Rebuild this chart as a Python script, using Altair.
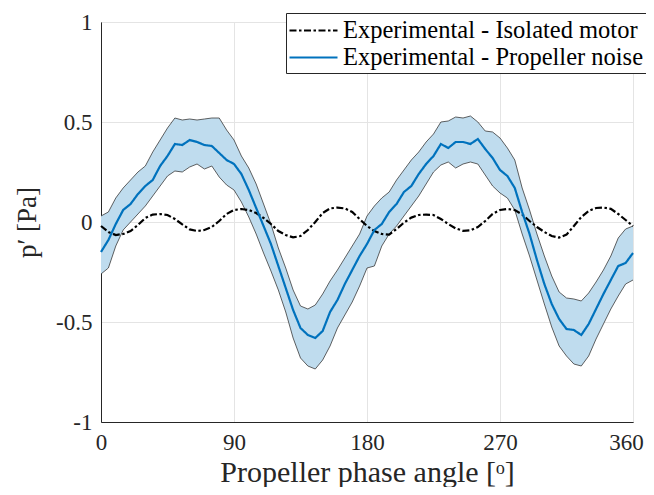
import altair as alt
import pandas as pd

angle = list(range(0, 365, 5))

prop_mean = [-0.15, -0.09, -0.01, 0.06, 0.09, 0.14, 0.18, 0.21, 0.28, 0.33,
             0.39, 0.385, 0.41, 0.40, 0.385, 0.38, 0.345, 0.31, 0.29, 0.24,
             0.16, 0.07, -0.02, -0.11, -0.22, -0.33, -0.44, -0.53, -0.565, -0.58,
             -0.545, -0.45, -0.39, -0.31, -0.24, -0.17, -0.11, -0.04, -0.01, 0.05,
             0.09, 0.15, 0.18, 0.24, 0.29, 0.33, 0.39, 0.37, 0.40, 0.40,
             0.39, 0.415, 0.365, 0.32, 0.26, 0.23, 0.17, 0.05, -0.06, -0.19,
             -0.31, -0.41, -0.485, -0.535, -0.54, -0.565, -0.51, -0.435, -0.36, -0.29,
             -0.22, -0.205, -0.155]

prop_upper = [0.03, 0.05, 0.12, 0.17, 0.21, 0.25, 0.28, 0.35, 0.41, 0.47,
              0.52, 0.51, 0.515, 0.51, 0.515, 0.52, 0.52, 0.46, 0.41, 0.33,
              0.27, 0.19, 0.09, -0.01, -0.13, -0.23, -0.34, -0.42, -0.435, -0.415,
              -0.36, -0.295, -0.24, -0.18, -0.12, -0.06, 0.03, 0.08, 0.12, 0.15,
              0.21, 0.26, 0.31, 0.35, 0.40, 0.44, 0.50, 0.505, 0.525, 0.52,
              0.53, 0.50, 0.455, 0.45, 0.42, 0.37, 0.31, 0.17, 0.06, -0.06,
              -0.17, -0.27, -0.35, -0.38, -0.385, -0.395, -0.355, -0.30, -0.24, -0.17,
              -0.08, -0.035, -0.02]

prop_lower = [-0.26, -0.23, -0.12, -0.04, 0.0, 0.04, 0.08, 0.13, 0.18, 0.23,
              0.255, 0.25, 0.275, 0.29, 0.265, 0.28, 0.225, 0.185, 0.16, 0.10,
              0.025, -0.06, -0.155, -0.245, -0.34, -0.45, -0.58, -0.68, -0.72, -0.735,
              -0.69, -0.62, -0.53, -0.465, -0.40, -0.32, -0.23, -0.22, -0.12, -0.06,
              -0.02, 0.03, 0.08, 0.13, 0.19, 0.25, 0.285, 0.30, 0.27, 0.29,
              0.30, 0.29, 0.235, 0.18, 0.145, 0.12, 0.06, -0.06, -0.17, -0.29,
              -0.41, -0.525, -0.62, -0.67, -0.71, -0.72, -0.67, -0.585, -0.51, -0.435,
              -0.37, -0.31, -0.29]

iso_motor = [-0.02, -0.05, -0.065, -0.06, -0.045, -0.015, 0.02, 0.037, 0.04, 0.035,
             0.015, -0.012, -0.037, -0.045, -0.04, -0.025, 0.005, 0.04, 0.06, 0.065,
             0.06, 0.045, 0.02, -0.01, -0.045, -0.065, -0.077, -0.07, -0.04, 0.0,
             0.045, 0.068, 0.072, 0.068, 0.05, 0.015, -0.02, -0.045, -0.06, -0.063,
             -0.035, -0.003, 0.022, 0.035, 0.037, 0.035, 0.015, -0.01, -0.032, -0.044,
             -0.042, -0.025, 0.005, 0.04, 0.06, 0.065, 0.06, 0.038, 0.005, -0.025,
             -0.05, -0.07, -0.078, -0.063, -0.02, 0.025, 0.055, 0.07, 0.072, 0.066,
             0.04, 0.01, -0.02]

series_names = ["Experimental - Isolated motor", "Experimental - Propeller noise"]
x_ticks = [0, 90, 180, 270, 360]
y_ticks = [-1, -0.5, 0, 0.5, 1]

band = pd.DataFrame({"angle": angle, "lower": prop_lower, "upper": prop_upper})
lines = pd.concat([
    pd.DataFrame({"angle": angle, "p": iso_motor, "series": series_names[0], "order": 0}),
    pd.DataFrame({"angle": angle, "p": prop_mean, "series": series_names[1], "order": 1}),
])

FONT = "Liberation Serif"
TXT = "#262626"

x_enc = alt.X("angle:Q", scale=alt.Scale(domain=[0, 360], nice=False),
              axis=alt.Axis(values=x_ticks, title="Propeller phase angle [ᵒ]",
                            labelPadding=9, titlePadding=3, labelAngle=0,
                            labelFlush=False, titleFontSize=30,
                            labelOffset={"condition": {"test": "datum.value === 360",
                                                       "value": -7},
                                         "value": 0}))
y_scale = alt.Scale(domain=[-1, 1], nice=False)

area = alt.Chart(band).mark_area(color="#BFDCEE", opacity=1).encode(
    x=x_enc,
    y=alt.Y("lower:Q", scale=y_scale,
            axis=alt.Axis(values=y_ticks, title="p′ [Pa]", labelPadding=9,
                          titlePadding=14, format="~g", labelFlush=False,
                          titleFontSize=27,
                          labelExpr="replace(datum.label, '\u2212', '-')")),
    y2="upper:Q",
)
edge_up = alt.Chart(band).mark_line(color="#3a3a3a", strokeWidth=0.8).encode(
    x="angle:Q", y=alt.Y("upper:Q", scale=y_scale))
edge_lo = alt.Chart(band).mark_line(color="#3a3a3a", strokeWidth=0.8).encode(
    x="angle:Q", y=alt.Y("lower:Q", scale=y_scale))

main = alt.Chart(lines).mark_line(strokeWidth=2.2).encode(
    x="angle:Q",
    y=alt.Y("p:Q", scale=y_scale),
    detail="series:N",
    order="order:Q",
    color=alt.Color("series:N",
                    scale=alt.Scale(domain=series_names, range=["#000000", "#0072BD"]),
                    legend=alt.Legend(title=None, orient="none", legendX=185, legendY=-9,
                                      strokeColor=TXT, fillColor="white", padding=4,
                                      labelFont=FONT, labelFontSize=24.5, labelColor="#000000",
                                      symbolType="M-2,0H2", symbolSize=576,
                                      symbolStrokeWidth=2.2, rowPadding=2,
                                      symbolOffset=10, labelOffset=16, labelLimit=600,
                                      cornerRadius=0)),
    strokeDash=alt.StrokeDash("series:N",
                              scale=alt.Scale(domain=series_names,
                                              range=[[7, 2.5, 2.5, 2.5], [1, 0]]),
                              legend=None),
)

chart = alt.layer(area, edge_up, edge_lo, main).properties(
    width=532, height=400,
    autosize=alt.AutoSizeParams(type="none"),
    padding={"left": 93, "top": 14, "right": 13, "bottom": 65},
).configure_view(stroke=TXT, strokeWidth=1).configure_axis(
    labelFont=FONT, labelFontSize=23, labelColor=TXT,
    titleFont=FONT, titleColor=TXT, titleFontWeight="normal",
    grid=True, gridColor="#e4e4e4", gridWidth=1,
    domainColor=TXT, ticks=False,
)

chart.save("out.html", embed_options={"renderer": "svg", "actions": False})
